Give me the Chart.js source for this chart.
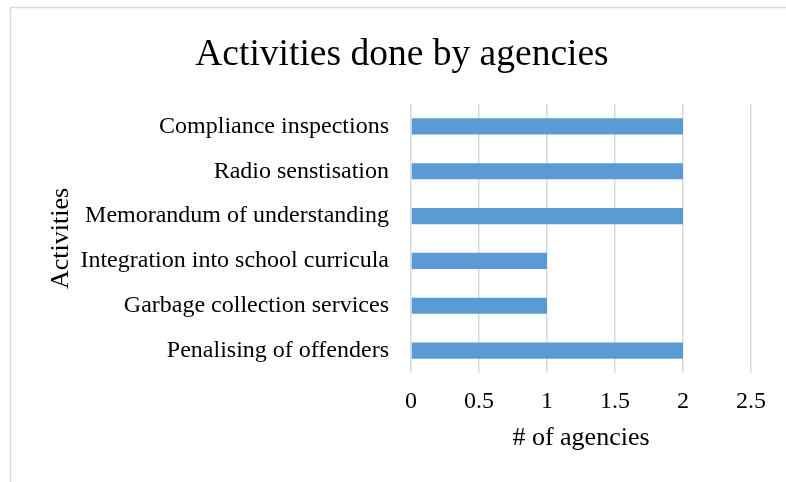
<!DOCTYPE html>
<html>
<head>
<meta charset="utf-8">
<title>Activities done by agencies</title>
<script src="https://cdn.jsdelivr.net/npm/chart.js"></script>
<style>
  html, body { margin: 0; padding: 0; background: #fff; }
  canvas { display: block; }
</style>
</head>
<body>
<canvas id="myChart" width="786" height="482"></canvas>
<script>
// activities listed top to bottom
var activities = [
    'Compliance inspections',
    'Radio senstisation',
    'Memorandum of understanding',
    'Integration into school curricula',
    'Garbage collection services',
    'Penalising of offenders'
];
// number of agencies doing each activity
var agencyCounts = [2, 2, 2, 1, 1, 2];
// value axis ticks
var xTicks = [0, 0.5, 1, 1.5, 2, 2.5];
var xTickLabels = ['0', '0.5', '1', '1.5', '2', '2.5'];

var serif = "'Liberation Serif', 'Times New Roman', serif";

// thin grey frame round the chart
var framePlugin = {
    id: 'frame',
    beforeDraw: function (chart) {
        var c = chart.ctx;
        c.save();
        c.strokeStyle = '#d9d9d9';
        c.lineWidth = 1.5;
        c.strokeRect(10.5, 7.5, chart.width + 20, chart.height + 20);
        c.restore();
    }
};

var ctx = document.getElementById('myChart').getContext('2d');

var myChart = new Chart(ctx, {
    type: 'bar',
    data: {
        labels: activities,
        datasets: [{
            label: '# of agencies',
            data: agencyCounts,
            backgroundColor: '#5b9bd5',
            borderWidth: 0,
            categoryPercentage: 1,
            barPercentage: 0.36
        }]
    },
    plugins: [framePlugin],
    options: {
        indexAxis: 'y',
        responsive: false,
        animation: false,
        devicePixelRatio: 1,
        // left padding shifts the centred title to the right
        layout: { padding: { left: 53, right: 35, top: 0, bottom: 0 } },
        plugins: {
            legend: { display: false },
            tooltip: { enabled: false },
            title: {
                display: true,
                text: 'Activities done by agencies',
                color: '#000',
                font: { family: serif, size: 37.5, weight: 'normal' },
                padding: { top: 33, bottom: 26 }
            }
        },
        scales: {
            x: {
                min: xTicks[0],
                max: xTicks[xTicks.length - 1],
                afterBuildTicks: function (axis) {
                    axis.ticks = xTicks.map(function (v) { return { value: v }; });
                },
                afterFit: function (axis) { axis.height = 109; },
                grid: { color: '#d9d9d9', lineWidth: 1.5, drawTicks: false },
                border: { display: false },
                ticks: {
                    color: '#000',
                    padding: 14,
                    font: { family: serif, size: 24 },
                    callback: function (value, i) { return xTickLabels[i]; }
                },
                title: {
                    display: true,
                    text: '# of agencies',
                    color: '#000',
                    font: { family: serif, size: 26 },
                    padding: { top: 6, bottom: 28 }
                }
            },
            y: {
                afterFit: function (axis) { axis.width = 358; },
                grid: { display: false, drawTicks: false },
                border: { display: false },
                ticks: {
                    color: '#000',
                    padding: 22,
                    font: { family: serif, size: 24 }
                },
                title: {
                    display: true,
                    text: 'Activities',
                    color: '#000',
                    font: { family: serif, size: 26 },
                    padding: { top: -7, bottom: 10 }
                }
            }
        }
    }
});
</script>
</body>
</html>
